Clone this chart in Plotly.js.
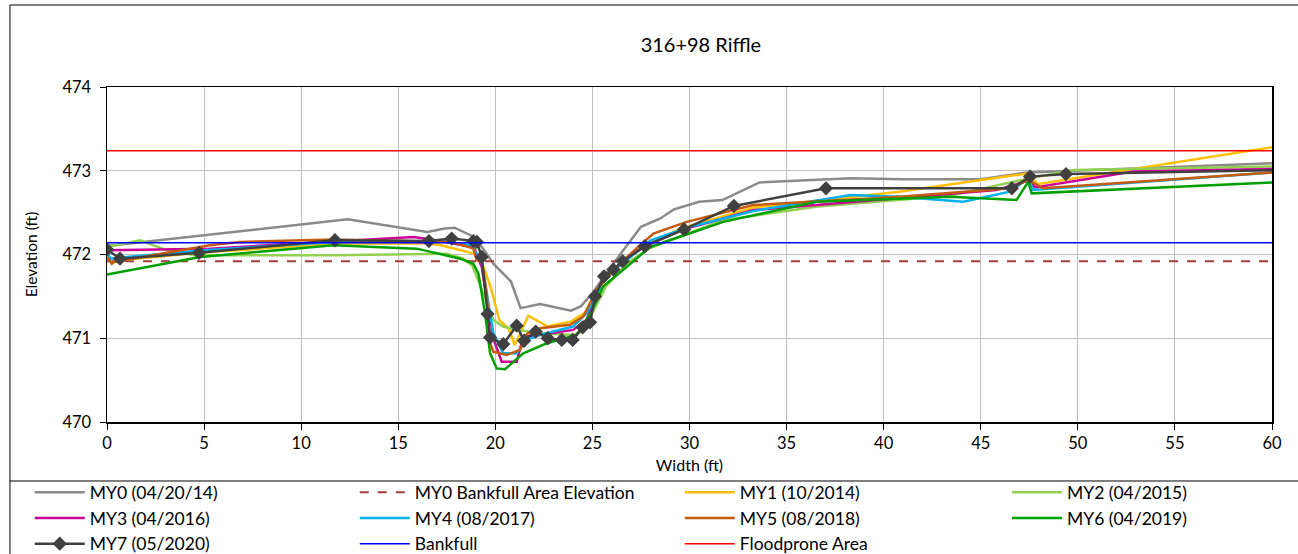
<!DOCTYPE html>
<html>
<head>
<meta charset="utf-8">
<script src="https://cdn.plot.ly/plotly-3.0.1.min.js"></script>
<style>
  html, body { margin: 0; padding: 0; background: #ffffff; }
  #chart { width: 1298px; height: 554px; }
</style>
</head>
<body>
<div id="chart"></div>
<script>
// Cross-section survey, station 316+98 (riffle): width (ft) vs elevation (ft)

const my0X = [0, 5.3, 12.4, 16.5, 17.4, 17.9, 18.9, 19.4, 19.9, 20.8, 21.3, 22.3, 23.9, 24.4, 25.0, 26.2, 27.5, 28.5, 29.2, 30.5, 31.7, 33.6, 38.3, 41.0, 45.0, 47.4, 60];
const my0Y = [472.10, 472.24, 472.42, 472.27, 472.31, 472.32, 472.21, 472.06, 471.89, 471.68, 471.36, 471.41, 471.33, 471.38, 471.54, 471.93, 472.33, 472.43, 472.54, 472.63, 472.65, 472.86, 472.91, 472.90, 472.90, 472.98, 473.09];

const my1X = [0, 0.25, 0.7, 4.7, 11.7, 16.5, 17.2, 18.9, 19.4, 19.8, 20.2, 20.7, 21.0, 21.7, 22.7, 23.9, 24.7, 25.2, 25.6, 26.6, 27.7, 29.7, 33.3, 37.0, 40.8, 47.5, 47.9, 60];
const my1Y = [471.99, 471.90, 471.93, 472.02, 472.13, 472.13, 472.11, 472.01, 471.85, 471.58, 471.22, 471.11, 470.92, 471.27, 471.14, 471.20, 471.32, 471.52, 471.70, 471.92, 472.12, 472.32, 472.56, 472.65, 472.75, 472.97, 472.84, 473.28];

const my2X = [0, 1.7, 3.1, 4.5, 11.7, 17.5, 18.35, 18.8, 19.05, 19.5, 19.9, 20.4, 21.1, 22.3, 24.0, 24.5, 25.7, 26.8, 28.0, 31.7, 36.5, 43.4, 47.5, 49.8, 60];
const my2Y = [472.09, 472.17, 472.05, 471.99, 471.99, 472.01, 471.95, 471.87, 471.73, 471.46, 471.22, 471.14, 471.10, 471.06, 471.04, 471.08, 471.62, 471.90, 472.08, 472.41, 472.57, 472.70, 472.91, 473.01, 473.05];

const my3X = [0, 5.3, 15.8, 17.2, 18.5, 18.9, 19.3, 19.64, 19.98, 20.33, 21.1, 21.44, 22.3, 24.0, 24.7, 25.13, 25.6, 26.6, 27.7, 29.7, 33.3, 40.8, 45.8, 47.0, 47.5, 47.8, 52.85, 60];
const my3Y = [472.05, 472.07, 472.21, 472.16, 472.10, 472.09, 471.85, 471.34, 470.94, 470.72, 470.72, 471.02, 471.04, 471.10, 471.22, 471.50, 471.74, 471.92, 472.10, 472.30, 472.53, 472.67, 472.77, 472.85, 472.89, 472.80, 472.99, 473.02];

const my4X = [0, 0.2, 1.0, 5.0, 11.7, 17.2, 18.8, 19.3, 19.64, 19.9, 20.4, 21.1, 21.62, 22.3, 24.0, 24.7, 25.2, 25.6, 26.6, 28.0, 30.0, 33.3, 38.3, 40.8, 44.1, 46.5, 47.45, 47.7, 60];
const my4Y = [472.02, 471.95, 471.97, 472.05, 472.15, 472.16, 472.11, 471.90, 471.42, 471.06, 470.82, 470.82, 470.98, 471.04, 471.14, 471.30, 471.50, 471.72, 471.90, 472.17, 472.33, 472.52, 472.71, 472.69, 472.63, 472.75, 472.91, 472.77, 472.98];

const my5X = [0, 0.25, 0.33, 5.3, 6.85, 11.66, 17.66, 18.35, 18.87, 19.04, 19.3, 19.56, 19.73, 19.9, 20.58, 21.27, 21.62, 22.3, 23.85, 24.53, 25.22, 26.42, 27.45, 28.14, 29.86, 33.28, 40.84, 46.5, 47.45, 48.2, 60];
const my5Y = [471.97, 471.89, 471.91, 472.11, 472.15, 472.18, 472.15, 472.11, 472.07, 471.93, 471.91, 471.53, 470.94, 470.84, 470.80, 470.86, 471.05, 471.12, 471.16, 471.26, 471.58, 471.89, 472.11, 472.25, 472.39, 472.59, 472.69, 472.79, 472.89, 472.79, 472.98];

const my6X = [0, 4.8, 11.66, 15.95, 17.66, 18.18, 18.52, 18.87, 19.13, 19.47, 19.73, 20.07, 20.5, 21.44, 22.65, 24.19, 24.96, 25.56, 26.76, 27.45, 27.97, 31.74, 36.55, 43.42, 46.84, 47.45, 47.62, 60];
const my6Y = [471.76, 471.97, 472.11, 472.07, 471.98, 471.95, 471.92, 471.89, 471.77, 471.30, 470.82, 470.64, 470.63, 470.82, 470.94, 471.04, 471.32, 471.62, 471.85, 471.99, 472.09, 472.39, 472.63, 472.69, 472.65, 472.87, 472.73, 472.86];

const my7X = [0, 0.67, 4.74, 11.74, 16.58, 17.75, 18.87, 19.05, 19.3, 19.6, 19.73, 20.41, 21.1, 21.48, 22.08, 22.7, 23.42, 23.98, 24.5, 24.88, 25.13, 25.6, 26.08, 26.56, 27.7, 29.72, 32.29, 37.03, 46.6, 47.54, 49.39, 61.2];
const my7Y = [472.06, 471.95, 472.02, 472.17, 472.16, 472.19, 472.16, 472.15, 471.97, 471.29, 471.01, 470.93, 471.15, 470.97, 471.08, 471.00, 470.98, 470.98, 471.13, 471.19, 471.50, 471.74, 471.82, 471.92, 472.10, 472.30, 472.58, 472.79, 472.79, 472.93, 472.96, 473.01];

// Reference elevations, drawn across the full section width
const sectionX = [0, 60];
const my0BankfullAreaElev = 471.92;
const bankfullElev = 472.14;
const floodproneElev = 473.24;

const xTicks = [0, 5, 10, 15, 20, 25, 30, 35, 40, 45, 50, 55, 60];
const yTicks = [470, 471, 472, 473, 474];

const FONT = 'Lato, "Noto Sans", sans-serif';

function series(name, xs, ys, color, extra) {
  return Object.assign({
    type: 'scatter', mode: 'lines', name: name, x: xs, y: ys,
    line: { color: color, width: 2.5 }, hoverinfo: 'x+y+name'
  }, extra || {});
}
function level(name, value, color, dash, width) {
  return {
    type: 'scatter', mode: 'lines', name: name,
    x: sectionX, y: sectionX.map(() => value),
    line: { color: color, width: width, dash: dash }
  };
}

// The legend is a 4-column grid; the last column (MY2, MY6) lives in a
// second legend box so that all four columns fit across the page.
const traces = [
  series('MY0 (04/20/14)', my0X, my0Y, '#8a8a8a'),
  level('MY0 Bankfull Area Elevation', my0BankfullAreaElev, '#a33d3a', 'dash', 2),
  series('MY1 (10/2014)', my1X, my1Y, '#ffc000'),
  series('MY2 (04/2015)', my2X, my2Y, '#92d050', { legend: 'legend2' }),
  series('MY3 (04/2016)', my3X, my3Y, '#cc0099'),
  series('MY4 (08/2017)', my4X, my4Y, '#00b0f0'),
  series('MY5 (08/2018)', my5X, my5Y, '#c55a11'),
  series('MY6 (04/2019)', my6X, my6Y, '#00a000', { legend: 'legend2' }),
  series('MY7 (05/2020)', my7X, my7Y, '#404040', {
    mode: 'lines+markers',
    marker: { symbol: 'diamond', size: 11, color: '#404040' }
  }),
  level('Bankfull', bankfullElev, '#0000ff', 'solid', 1.5),
  level('Floodprone Area', floodproneElev, '#ff0000', 'solid', 1.5)
];

const legendFont = { family: FONT, size: 17.5, color: '#000000' };
const frame = { color: '#000000', width: 1 };
const layout = {
  width: 1298, height: 554,
  margin: { l: 107, r: 26, t: 87, b: 132, autoexpand: false },
  paper_bgcolor: '#ffffff', plot_bgcolor: '#ffffff',
  font: { family: FONT, size: 16, color: '#000000' },
  showlegend: true,
  title: {
    text: '316+98 Riffle',
    font: { family: FONT, size: 20, color: '#000000' },
    xref: 'container', yref: 'container',
    x: 0.54, xanchor: 'center', y: 0.918, yanchor: 'middle'
  },
  xaxis: {
    range: [0, 60], tickvals: xTicks, ticktext: xTicks.map(String),
    showgrid: true, gridcolor: '#c0c0c0', gridwidth: 1,
    showline: true, linecolor: '#000000', linewidth: 1.5, mirror: true,
    ticks: 'outside', ticklen: 6, tickcolor: '#000000',
    zeroline: false, tickfont: { family: FONT, size: 16.5 },
    title: { text: 'Width (ft)', font: { family: FONT, size: 16 }, standoff: 7 }
  },
  yaxis: {
    range: [470, 474], tickvals: yTicks, ticktext: yTicks.map(String),
    showgrid: true, gridcolor: '#c0c0c0', gridwidth: 1,
    showline: true, linecolor: '#000000', linewidth: 1.5, mirror: true,
    ticks: 'outside', ticklen: 6, tickcolor: '#000000', ticklabelstandoff: 5,
    zeroline: false, tickfont: { family: FONT, size: 16.5 },
    title: { text: 'Elevation (ft)', font: { family: FONT, size: 15.5 }, standoff: 21 }
  },
  legend: {
    orientation: 'h',
    x: -0.0663, xanchor: 'left',
    y: -0.156, yanchor: 'top',
    entrywidth: 260, entrywidthmode: 'pixels',
    itemwidth: 50, tracegroupgap: 0,
    font: legendFont, bgcolor: 'rgba(0,0,0,0)'
  },
  legend2: {
    orientation: 'v',
    x: 0.7725, xanchor: 'left',
    y: -0.156, yanchor: 'top',
    itemwidth: 50, tracegroupgap: 0,
    font: legendFont, bgcolor: 'rgba(0,0,0,0)'
  },
  shapes: [
    { type: 'line', xref: 'paper', yref: 'paper', x0: -0.0833, x1: -0.0833, y0: 1.2448, y1: -0.42, line: frame },
    { type: 'line', xref: 'paper', yref: 'paper', x0: -0.0833, x1: 1.03, y0: 1.2448, y1: 1.2448, line: frame },
    { type: 'line', xref: 'paper', yref: 'paper', x0: -0.0833, x1: 1.03, y0: -0.1761, y1: -0.1761, line: frame }
  ]
};

Plotly.newPlot('chart', traces, layout, { staticPlot: true, displayModeBar: false });
</script>
</body>
</html>
